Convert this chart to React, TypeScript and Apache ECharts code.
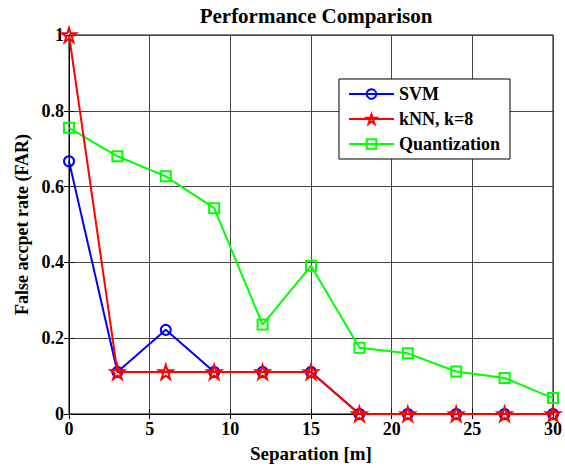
import React, { useEffect, useRef } from "react";
import * as echarts from "echarts";

const separation = [0, 3, 6, 9, 12, 15, 18, 21, 24, 27, 30];
const svmFar = [0.667, 0.111, 0.222, 0.111, 0.111, 0.111, 0, 0, 0, 0, 0];
const knnFar = [1, 0.111, 0.111, 0.111, 0.111, 0.111, 0, 0, 0, 0, 0];
const quantFar = [0.755, 0.68, 0.627, 0.543, 0.236, 0.391, 0.175, 0.16, 0.112, 0.095, 0.042];
const seriesNames = ["SVM", "kNN, k=8", "Quantization"];

const FONT = "Liberation Serif";
const STAR =
  "path://M50,0 L61.2,34.5 L97.6,34.5 L68.2,55.9 L79.4,90.5 L50,69.1 L20.6,90.5 L31.8,55.9 L2.4,34.5 L38.8,34.5 Z";

const pairs = (ys: number[]) => separation.map((x, i) => [x, ys[i]]);

export default function App() {
  const ref = useRef<HTMLDivElement>(null);
  useEffect(() => {
    if (!ref.current) return;
    const chart = echarts.init(ref.current, undefined, { renderer: "svg" });
    const tickLabel = { fontFamily: FONT, fontWeight: "bold" as const, fontSize: 18, color: "#000" };
    const axisCommon = {
      axisLine: { show: true, onZero: false, lineStyle: { color: "#000", width: 1 } },
      axisTick: { show: true, inside: true, length: 5, lineStyle: { color: "#000" } },
      splitLine: { show: true, lineStyle: { color: "#444", width: 1 } },
    };
    chart.setOption({
      animation: false,
      backgroundColor: "#fff",
      textStyle: { fontFamily: FONT },
      title: {
        text: "Performance Comparison",
        left: 311,
        textAlign: "center",
        top: 0,
        textStyle: { fontFamily: FONT, fontWeight: "bold", fontSize: 21, color: "#000" },
      },
      grid: { left: 69, right: 12, top: 35, bottom: 52, show: true, borderColor: "#000", borderWidth: 1, backgroundColor: "#fff" },
      legend: {
        orient: "vertical",
        left: 339,
        top: 79,
        width: 171,
        padding: [6, 10, 6, 9],
        itemGap: 7,
        itemWidth: 45,
        itemHeight: 12,
        backgroundColor: "#fff",
        borderColor: "#000",
        borderWidth: 1,
        data: seriesNames,
        textStyle: { fontFamily: FONT, fontWeight: "bold", fontSize: 18, color: "#000" },
      },
      xAxis: [
        {
          type: "value",
          min: 0,
          max: 30,
          interval: 5,
          name: "Separation [m]",
          nameLocation: "middle",
          nameGap: 30,
          nameTextStyle: { fontFamily: FONT, fontWeight: "bold", fontSize: 19, color: "#000" },
          axisLabel: { ...tickLabel, margin: 6 },
          ...axisCommon,
        },
        {
          type: "value",
          position: "top",
          min: 0,
          max: 30,
          interval: 5,
          axisLabel: { show: false },
          axisLine: { show: true, lineStyle: { color: "#000" } },
          axisTick: { show: true, inside: true, length: 5, lineStyle: { color: "#000" } },
          splitLine: { show: false },
        },
      ],
      yAxis: [
        {
          type: "value",
          min: 0,
          max: 1,
          interval: 0.2,
          name: "False accpet rate (FAR)",
          nameLocation: "middle",
          nameGap: 37,
          nameTextStyle: { fontFamily: FONT, fontWeight: "bold", fontSize: 18, color: "#000" },
          axisLabel: { ...tickLabel, margin: 5 },
          ...axisCommon,
        },
        {
          type: "value",
          position: "right",
          min: 0,
          max: 1,
          interval: 0.2,
          axisLabel: { show: false },
          axisLine: { show: true, lineStyle: { color: "#000" } },
          axisTick: { show: true, inside: true, length: 5, lineStyle: { color: "#000" } },
          splitLine: { show: false },
        },
      ],
      series: [
        {
          name: seriesNames[0],
          type: "line",
          data: pairs(svmFar),
          symbol: "circle",
          symbolSize: 10,
          showAllSymbol: true,
          lineStyle: { color: "#0000ff", width: 2 },
          itemStyle: { color: "rgba(255,255,255,0)", borderColor: "#0000ff", borderWidth: 2 },
          z: 2,
        },
        {
          name: seriesNames[1],
          type: "line",
          data: pairs(knnFar),
          symbol: STAR,
          symbolSize: 14,
          showAllSymbol: true,
          lineStyle: { color: "#ff0000", width: 2 },
          itemStyle: { color: "rgba(255,255,255,0)", borderColor: "#ff0000", borderWidth: 2 },
          z: 3,
        },
        {
          name: seriesNames[2],
          type: "line",
          data: pairs(quantFar),
          symbol: "rect",
          symbolSize: 10,
          showAllSymbol: true,
          lineStyle: { color: "#00ff00", width: 2 },
          itemStyle: { color: "rgba(255,255,255,0)", borderColor: "#00ff00", borderWidth: 2 },
          z: 2,
        },
      ],
    });
    return () => chart.dispose();
  }, []);
  return <div ref={ref} style={{ position: "absolute", left: 0, top: 0, width: 565, height: 468 }} />;
}
